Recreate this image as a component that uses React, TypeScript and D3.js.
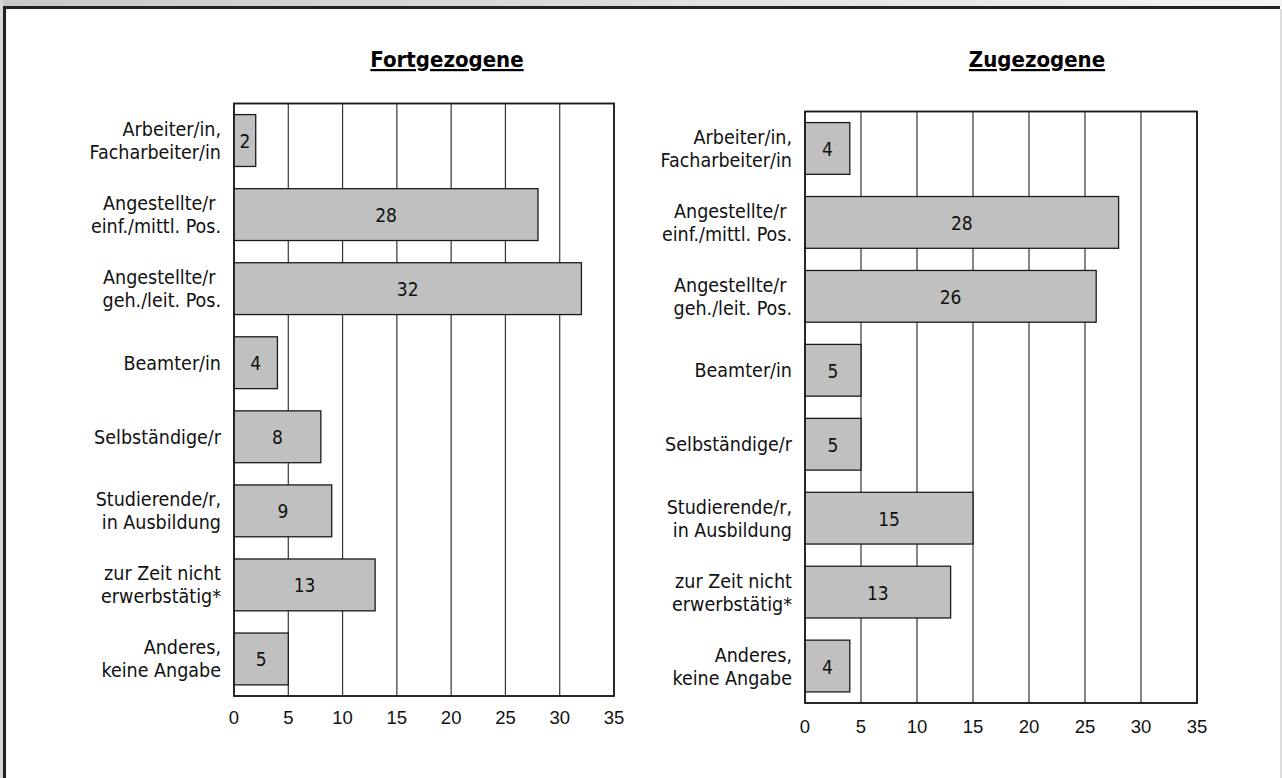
import React from "react";
import * as d3 from "d3";

const categories = [
  ["Arbeiter/in,", "Facharbeiter/in"],
  ["Angestellte/r\u00a0", "einf./mittl. Pos."],
  ["Angestellte/r\u00a0", "geh./leit. Pos."],
  ["Beamter/in"],
  ["Selbständige/r"],
  ["Studierende/r,", "in Ausbildung"],
  ["zur Zeit nicht", "erwerbstätig*"],
  ["Anderes,", "keine Angabe"],
];
const fortgezogene = [2, 28, 32, 4, 8, 9, 13, 5];
const zugezogene = [4, 28, 26, 5, 5, 15, 13, 4];
const tickValues = [0, 5, 10, 15, 20, 25, 30, 35];

const COND = "'DejaVu Sans Condensed', 'DejaVu Sans', sans-serif";
const TICK_FONT = "'Liberation Sans', Arial, sans-serif";
const INK = "#1a1a1a";

type PanelProps = {
  title: string;
  values: number[];
  x0: number;
  x1: number;
  y0: number;
  y1: number;
  labelX: number;
  tickY: number;
  titleX: number;
  titleY: number;
};

const Panel = ({ title, values, x0, x1, y0, y1, labelX, tickY, titleX, titleY }: PanelProps) => {
  const keys = categories.map((_, i) => String(i));
  const x = d3.scaleLinear().domain([0, 35]).range([x0, x1]);
  const y = d3.scaleBand<string>().domain(keys).range([y0, y1]).paddingInner(0.3).paddingOuter(0.15);
  const bw = y.bandwidth();

  return (
    <g>
      <text
        x={titleX}
        y={titleY}
        textAnchor="middle"
        fontFamily={COND}
        fontWeight="bold"
        fontSize={22}
        fill="#000"
        style={{ textDecoration: "underline" }}
      >
        {title}
      </text>
      <rect x={x0} y={y0} width={x1 - x0} height={y1 - y0} fill="#fff" stroke={INK} strokeWidth={1.5} />
      {tickValues.slice(1, -1).map((t) => (
        <line key={t} x1={x(t)} x2={x(t)} y1={y0} y2={y1} stroke="#333" strokeWidth={1.2} />
      ))}
      {values.map((v, i) => {
        const cy = (y(keys[i]) as number) + bw / 2;
        return (
          <g key={i}>
            <rect
              x={x(0)}
              y={y(keys[i])}
              width={x(v) - x(0)}
              height={bw}
              fill="#c0c0c0"
              stroke={INK}
              strokeWidth={1.3}
            />
            <text
              x={(x(0) + x(v)) / 2}
              y={cy + 7.5}
              textAnchor="middle"
              fontFamily={COND}
              fontSize={19}
              fill="#111"
            >
              {v}
            </text>
          </g>
        );
      })}
      {categories.map((lines, i) => {
        const cy = (y(keys[i]) as number) + bw / 2;
        const start = cy + 7 - ((lines.length - 1) * 23) / 2;
        return (
          <text key={i} textAnchor="end" fontFamily={COND} fontSize={19.5} fill="#111">
            {lines.map((l, j) => (
              <tspan key={j} x={labelX} y={start + j * 23}>
                {l}
              </tspan>
            ))}
          </text>
        );
      })}
      <rect x={x0} y={y0} width={x1 - x0} height={y1 - y0} fill="none" stroke={INK} strokeWidth={1.5} />
      {tickValues.map((t) => (
        <text key={t} x={x(t)} y={tickY} textAnchor="middle" fontFamily={TICK_FONT} fontSize={18.5} fill="#111">
          {t}
        </text>
      ))}
    </g>
  );
};

export default function App() {
  return (
    <svg
      width={1282}
      height={778}
      style={{ position: "absolute", left: 0, top: 0, background: "#fff" }}
    >
      <defs>
        <linearGradient id="topBand" x1="0" y1="0" x2="1" y2="0">
          <stop offset="0%" stopColor="#c8c8c8" />
          <stop offset="100%" stopColor="#f4f4f4" />
        </linearGradient>
      </defs>
      <rect x={0} y={0} width={1282} height={7} fill="url(#topBand)" />
      <rect x={0} y={0} width={3} height={778} fill="#d8d8d8" />
      <line x1={3} x2={1280} y1={7.5} y2={7.5} stroke="#222" strokeWidth={3} />
      <line x1={4.5} x2={4.5} y1={6} y2={778} stroke="#222" strokeWidth={3} />
      <line x1={1281} x2={1281} y1={9} y2={778} stroke="#d0d0d0" strokeWidth={1.5} />

      <Panel
        title="Fortgezogene"
        values={fortgezogene}
        x0={234}
        x1={614}
        y0={103.5}
        y1={696}
        labelX={221}
        tickY={724}
        titleX={447}
        titleY={67}
      />
      <Panel
        title="Zugezogene"
        values={zugezogene}
        x0={805}
        x1={1197}
        y0={111.5}
        y1={703}
        labelX={792}
        tickY={733}
        titleX={1037}
        titleY={67}
      />
    </svg>
  );
}
